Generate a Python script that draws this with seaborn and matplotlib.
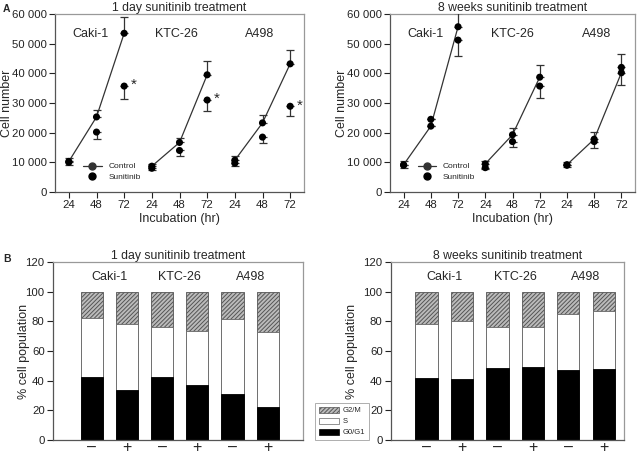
import numpy as np
import pandas as pd
import matplotlib
matplotlib.use("Agg")
import matplotlib.pyplot as plt
from matplotlib.ticker import FuncFormatter
from matplotlib.lines import Line2D
from matplotlib.patches import Patch
import seaborn as sns

# ==== Data ====
hours = [24, 48, 72]
cell_lines = ["Caki-1", "KTC-26", "A498"]

# 1 day treatment (3 groups x 3 timepoints, flattened)
ctrl_1d = [10300, 25300, 53500, 8700, 16700, 39500, 10700, 23300, 43200]
ctrl_1d_err = [1200, 2500, 5500, 800, 1600, 4500, 1300, 2500, 4800]
suni_1d = [10000, 20200, 35700, 8000, 14000, 31000, 9700, 18500, 28900]
suni_1d_err = [900, 2300, 4200, 600, 1800, 3700, 800, 2100, 3300]
star_1d = [False, False, True, False, False, True, False, False, True]

# 8 weeks treatment
ctrl_8w = [9200, 22200, 55700, 9500, 19300, 38700, 9200, 17800, 40200]
ctrl_8w_err = [1100, 2500, 4500, 1000, 2200, 4100, 800, 2400, 6300]
suni_8w = [9000, 24500, 51200, 8200, 17000, 35700, 9000, 17000, 42000]
suni_8w_err = [900, 2300, 5200, 600, 1800, 3900, 700, 2000, 6000]

# cell cycle: cumulative tops of G0/G1 and S (G2/M fills to 100)
treat_labels = ["\u2013", "+", "\u2013", "+", "\u2013", "+"]
g0g1_1d = [42.5, 34, 42.5, 37, 31, 22]
s_top_1d = [82.5, 78.5, 76, 73.5, 81.5, 72.5]
g0g1_8w = [41.5, 41, 48.5, 49, 47, 48]
s_top_8w = [78.5, 80, 76, 76.5, 85, 87]

# ==== Style ====
sns.set_style("ticks")
plt.rcParams["font.family"] = ["Liberation Sans", "DejaVu Sans"]
plt.rcParams["hatch.linewidth"] = 0.7
plt.rcParams["hatch.color"] = "#333333"

W, H = 640, 455
fig = plt.figure(figsize=(W / 100, H / 100), dpi=100)


def box(l, r, t, b):
    return [l / W, (H - b) / H, (r - l) / W, (b - t) / H]


def style_axes(ax):
    for s in ["left", "bottom"]:
        ax.spines[s].set_color("#555555")
    for s in ["top", "right"]:
        ax.spines[s].set_visible(True)
        ax.spines[s].set_color("#999999")
    ax.tick_params(colors="#222222", labelsize=8.2, length=4, width=0.8, pad=2)
    for s in ax.spines.values():
        s.set_linewidth(0.9)


def growth_panel(ax, ctrl, ctrl_err, suni, suni_err, star, title, label_x, ylab_x):
    xs = np.arange(len(ctrl))
    df = pd.DataFrame({"x": xs, "ctrl": ctrl, "suni": suni,
                       "grp": np.repeat(cell_lines, 3)})
    for g in cell_lines:
        sub = df[df["grp"] == g]
        sns.lineplot(data=sub, x="x", y="ctrl", ax=ax, color="#333333",
                     linewidth=0.9, legend=False, zorder=2)
    ax.errorbar(xs, ctrl, yerr=[np.zeros(len(ctrl)), ctrl_err], fmt="none",
                ecolor="#333333", elinewidth=0.9, capsize=3, capthick=0.9, zorder=3)
    ax.errorbar(xs, suni, yerr=[suni_err, np.zeros(len(suni))], fmt="none",
                ecolor="#333333", elinewidth=0.9, capsize=3, capthick=0.9, zorder=3)
    sns.scatterplot(x=xs, y=ctrl, ax=ax, color="black", s=26, edgecolor="none", zorder=4)
    sns.scatterplot(x=xs, y=suni, ax=ax, color="black", s=26, edgecolor="none", zorder=4)
    for i, st in enumerate(star):
        if st:
            ax.text(xs[i] + 0.33, suni[i] + 300, "*", fontsize=11, ha="center", va="center")
    for x, name in zip(label_x, cell_lines):
        ax.text(x, 53300, name, fontsize=9, ha="center", va="center")
    ax.set_xlim(-0.5, 8.5)
    ax.set_ylim(0, 60000)
    ax.set_yticks(range(0, 60001, 10000))
    ax.yaxis.set_major_formatter(FuncFormatter(lambda v, p: f"{int(v):,}".replace(",", " ")))
    ax.set_xticks(xs)
    ax.set_xticklabels([str(h) for h in hours] * 3)
    ax.set_xlabel("Incubation (hr)", fontsize=9, labelpad=2)
    ax.set_ylabel("Cell number", fontsize=9)
    ax.yaxis.set_label_coords(ylab_x, 0.5)
    ax.set_title(title, fontsize=8.8, pad=2)
    handles = [Line2D([], [], color="#333333", marker="o", markersize=5, linewidth=0.9),
               Line2D([], [], color="black", marker="o", markersize=5, linestyle="none")]
    ax.legend(handles, ["Control", "Sunitinib"], loc="lower left",
              bbox_to_anchor=(0.09, 0.03), frameon=False, fontsize=6,
              handlelength=2.2, labelspacing=0.3, borderpad=0.2)
    style_axes(ax)


def cycle_panel(ax, g0g1, s_top, title, xlim, ylab_x):
    cats = [f"{c}{t}" for c in cell_lines for t in ["-", "+"]]
    full = pd.DataFrame({"cat": cats, "v": [100] * 6})
    mid = pd.DataFrame({"cat": cats, "v": s_top})
    low = pd.DataFrame({"cat": cats, "v": g0g1})
    sns.barplot(data=full, x="cat", y="v", ax=ax, color="#bbbbbb", hatch="////////",
                edgecolor="#555555", linewidth=0.6, width=0.63, saturation=1)
    sns.barplot(data=mid, x="cat", y="v", ax=ax, color="white",
                edgecolor="#666666", linewidth=0.6, width=0.63, saturation=1)
    sns.barplot(data=low, x="cat", y="v", ax=ax, color="black",
                edgecolor="black", linewidth=0.6, width=0.63, saturation=1)
    for x, name in zip([0.5, 2.5, 4.5], cell_lines):
        ax.text(x, 110, name, fontsize=9, ha="center", va="center")
    ax.set_xlim(*xlim)
    ax.set_ylim(0, 120)
    ax.set_yticks(range(0, 121, 20))
    ax.set_xticks(range(6))
    ax.set_xticklabels(treat_labels)
    ax.set_xlabel("")
    ax.set_ylabel("% cell population", fontsize=9)
    ax.yaxis.set_label_coords(ylab_x, 0.5)
    ax.set_title(title, fontsize=8.8, pad=2)
    style_axes(ax)
    ax.tick_params(axis="x", length=0, labelsize=11.5, pad=0)


ax1 = fig.add_axes(box(55, 304, 14, 192))
growth_panel(ax1, ctrl_1d, ctrl_1d_err, suni_1d, suni_1d_err, star_1d,
             "1 day sunitinib treatment", [0.8, 3.9, 6.9], -0.168)
ax2 = fig.add_axes(box(390, 635, 14, 192))
growth_panel(ax2, ctrl_8w, ctrl_8w_err, suni_8w, suni_8w_err, [False] * 9,
             "8 weeks sunitinib treatment", [0.82, 4.0, 7.1], -0.17)
ax3 = fig.add_axes(box(53, 303, 262, 440))
cycle_panel(ax3, g0g1_1d, s_top_1d, "1 day sunitinib treatment", (-1.1, 6.0), -0.09)
ax4 = fig.add_axes(box(391, 624, 262, 440))
cycle_panel(ax4, g0g1_8w, s_top_8w, "8 weeks sunitinib treatment", (-1.0, 5.57), -0.14)

leg_handles = [Patch(facecolor="#bbbbbb", edgecolor="#555555", hatch="////////", linewidth=0.5),
               Patch(facecolor="white", edgecolor="#666666", linewidth=0.5),
               Patch(facecolor="black", edgecolor="black", linewidth=0.5)]
leg = fig.legend(leg_handles, ["G2/M", "S", "G0/G1"], loc="lower left",
                 bbox_to_anchor=(311 / W, 1 - 444 / H), fontsize=5.5, frameon=True,
                 fancybox=False, edgecolor="#999999", handlelength=2.6, handleheight=0.8,
                 labelspacing=0.45, borderpad=0.5, handletextpad=0.5)
leg.get_frame().set_linewidth(0.7)

fig.text(3 / W, 1 - 9 / H, "A", fontsize=7.5, fontweight="bold", va="center")
fig.text(3 / W, 1 - 259 / H, "B", fontsize=7.5, fontweight="bold", va="center")

fig.savefig("out.png", dpi=100)
